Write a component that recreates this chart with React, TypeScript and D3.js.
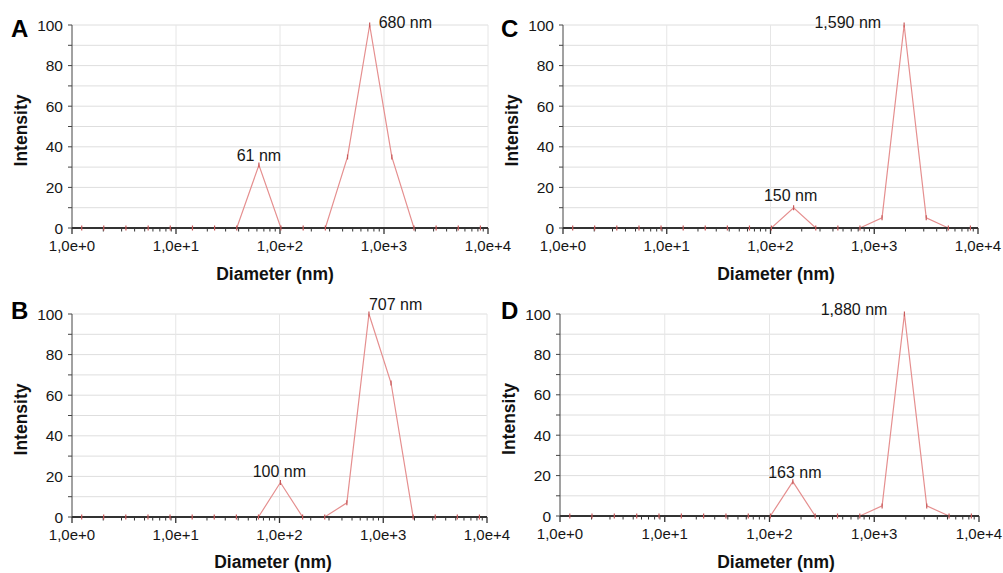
import React from "react";
import * as d3 from "d3";

// Size-distribution bins (nm)
const diameters = [1.24, 2.02, 3.3, 5.4, 8.81, 14.4, 23.5, 38.4, 62.7, 102, 167, 273, 446, 728, 1189, 1941, 3170, 5176, 8453];

const intensityA = [0, 0, 0, 0, 0, 0, 0, 0, 31, 0, 0, 0, 35, 100, 35, 0, 0, 0, 0];
const intensityB = [0, 0, 0, 0, 0, 0, 0, 0, 0, 17, 0, 0, 7, 100, 66, 0, 0, 0, 0];
const intensityC = [0, 0, 0, 0, 0, 0, 0, 0, 0, 0, 10, 0, 0, 0, 5, 100, 5, 0, 0];
const intensityD = [0, 0, 0, 0, 0, 0, 0, 0, 0, 0, 17, 0, 0, 0, 5, 100, 5, 0, 0];

const panelLetters = ["A", "B", "C", "D"];
const xTickValues = [1, 10, 100, 1000, 10000];
const xTickLabels = ["1,0e+0", "1,0e+1", "1,0e+2", "1,0e+3", "1,0e+4"];
const yTickValues = [0, 20, 40, 60, 80, 100];
const yMinorValues = [0, 10, 20, 30, 40, 50, 60, 70, 80, 90, 100];

// peak labels: [text, bin index]
const peakLabelsA: [string, number][] = [["61 nm", 8], ["680 nm", 13]];
const peakLabelsB: [string, number][] = [["100 nm", 9], ["707 nm", 13]];
const peakLabelsC: [string, number][] = [["150 nm", 10], ["1,590 nm", 15]];
const peakLabelsD: [string, number][] = [["163 nm", 10], ["1,880 nm", 15]];

const xLabel = "Diameter (nm)";
const yLabel = "Intensity";

// layout
const layouts = [
  { left: 72, right: 488, top: 25, bottom: 228, letterX: 11, letterY: 37, xLabelX: 275, xLabelY: 280,
    labelPos: [{ dx: 0, dy: -4, anchor: "middle" }, { dx: 9, dy: 3, anchor: "start" }] },
  { left: 72, right: 487, top: 314, bottom: 517, letterX: 11, letterY: 319, xLabelX: 273, xLabelY: 568,
    labelPos: [{ dx: -1, dy: -5, anchor: "middle" }, { dx: 0, dy: -4, anchor: "start" }] },
  { left: 563, right: 978, top: 25, bottom: 228, letterX: 501, letterY: 37, xLabelX: 776, xLabelY: 280,
    labelPos: [{ dx: -3, dy: -7, anchor: "middle" }, { dx: -23, dy: 3, anchor: "end" }] },
  { left: 560, right: 979, top: 314, bottom: 516, letterX: 501, letterY: 319, xLabelX: 776, xLabelY: 568,
    labelPos: [{ dx: 2, dy: -4, anchor: "middle" }, { dx: -17, dy: 1, anchor: "end" }] },
];

const series = [intensityA, intensityB, intensityC, intensityD];
const peakLabels = [peakLabelsA, peakLabelsB, peakLabelsC, peakLabelsD];

const FONT = "'Liberation Sans', Arial, Helvetica, sans-serif";

function minorTicks(): number[] {
  const out: number[] = [];
  for (let e = 0; e < 4; e++) {
    for (let m = 2; m <= 9; m++) out.push(m * Math.pow(10, e));
  }
  return out;
}

function Panel({ idx }: { idx: number }) {
  const L = layouts[idx];
  const x = d3.scaleLog().domain([1, 10000]).range([L.left, L.right]);
  const y = d3.scaleLinear().domain([0, 100]).range([L.bottom, L.top]);
  const vals = series[idx];
  const pts: [number, number][] = diameters.map((d, i) => [d, vals[i]]);
  const line = d3.line<[number, number]>().x((d) => x(d[0])).y((d) => y(d[1]));
  const midY = (L.top + L.bottom) / 2 + 4;

  return (
    <g>
      {yMinorValues.filter((v) => v > 0).map((v) => (
        <line key={"hg" + v} x1={L.left} x2={L.right} y1={y(v)} y2={y(v)} stroke="#dedede" strokeWidth={1} />
      ))}
      {xTickValues.filter((v) => v > 1).map((v) => (
        <line key={"vg" + v} x1={x(v)} x2={x(v)} y1={L.top} y2={L.bottom} stroke="#e6e6e6" strokeWidth={1} />
      ))}
      <line x1={L.left} x2={L.left} y1={L.top} y2={L.bottom} stroke="#444" strokeWidth={1} />
      {yMinorValues.map((v) => (
        <line key={"yt" + v} x1={L.left - 4} x2={L.left} y1={y(v)} y2={y(v)} stroke="#444" strokeWidth={1} />
      ))}
      {yTickValues.map((v) => (
        <text key={"yl" + v} x={L.left - 9} y={y(v)} dy="0.36em" textAnchor="end" fontSize={15.5} fill="#161616" fontFamily={FONT}>
          {v}
        </text>
      ))}
      {minorTicks().map((v) => (
        <line key={"xm" + v} x1={x(v)} x2={x(v)} y1={L.bottom} y2={L.bottom + 3.5} stroke="#333" strokeWidth={1} />
      ))}
      {xTickValues.map((v) => (
        <line key={"xM" + v} x1={x(v)} x2={x(v)} y1={L.bottom} y2={L.bottom + 6} stroke="#333" strokeWidth={1.3} />
      ))}
      {xTickValues.map((v, i) => (
        <text key={"xl" + v} x={x(v)} y={L.bottom + 23} textAnchor="middle" fontSize={15} fill="#161616" fontFamily={FONT}>
          {xTickLabels[i]}
        </text>
      ))}
      <path d={line(pts) || ""} fill="none" stroke="#e58f8f" strokeWidth={1.2} />
      <line x1={L.left} x2={L.right} y1={L.bottom} y2={L.bottom} stroke="#333" strokeWidth={1.8} />
      {pts.map((p, i) => (
        <line key={"mk" + i} x1={x(p[0])} x2={x(p[0])} y1={y(p[1]) - 2.5} y2={y(p[1]) + 2.5} stroke="#c85a5a" strokeWidth={1.2} />
      ))}
      {peakLabels[idx].map(([t, bi], k) => {
        const pos = L.labelPos[k];
        return (
          <text key={"pl" + k} x={x(diameters[bi]) + pos.dx} y={y(vals[bi]) + pos.dy} textAnchor={pos.anchor as any}
            fontSize={16} fill="#161616" fontFamily={FONT}>
            {t}
          </text>
        );
      })}
      <text x={L.xLabelX} y={L.xLabelY} textAnchor="middle" fontSize={17.5} fontWeight="bold" fill="#111" fontFamily={FONT}>
        {xLabel}
      </text>
      <text transform={`translate(${L.left - 45},${midY}) rotate(-90)`} textAnchor="middle" fontSize={17.5}
        fontWeight="bold" fill="#111" fontFamily={FONT}>
        {yLabel}
      </text>
      <text x={L.letterX} y={L.letterY} fontSize={24} fontWeight="bold" fill="#000" fontFamily={FONT}>
        {panelLetters[idx]}
      </text>
    </g>
  );
}

export default function App() {
  return (
    <svg width={1003} height={573} style={{ position: "absolute", left: 0, top: 0, background: "#fff" }}>
      <rect width={1003} height={573} fill="#fff" />
      {[0, 1, 2, 3].map((i) => (
        <Panel key={i} idx={i} />
      ))}
    </svg>
  );
}
